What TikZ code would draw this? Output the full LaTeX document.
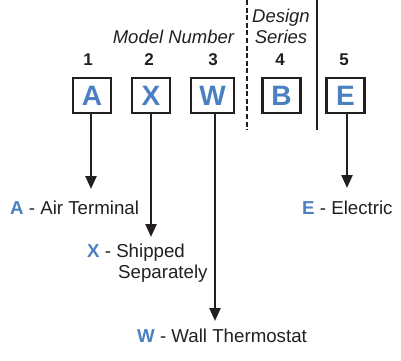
\documentclass[tikz,border=0pt]{standalone}
\usepackage{fontspec}
\setmainfont{Liberation Sans}
\usetikzlibrary{arrows.meta}
\definecolor{codeblue}{RGB}{74,128,193}
\definecolor{ink}{RGB}{35,31,32}
\tikzset{
  codebox/.style={draw=ink, line width=2.6pt, fill=white, minimum width=38pt, minimum height=35pt, inner sep=0pt,
    font=\fontsize{28}{28}\selectfont\bfseries, text=codeblue},
  numlabel/.style={font=\fontsize{17}{17}\selectfont\bfseries, text=ink, anchor=base, inner sep=0pt},
  headlabel/.style={font=\fontsize{18.5}{18.5}\selectfont\itshape, text=ink, anchor=base, inner sep=0pt},
  desc/.style={font=\fontsize{18.7}{18.7}\selectfont, text=ink, anchor=base west, inner sep=0pt},
  arrowline/.style={draw=ink, line width=2.3pt, -{Triangle[width=11pt,length=13pt]}},
}
\newcommand{\keyletter}[1]{\textcolor{codeblue}{\bfseries #1}}
\begin{document}
\begin{tikzpicture}[x=1pt,y=-1pt]
\useasboundingbox (0,0) rectangle (401,360);
% dividers
\draw[ink, line width=2.2pt, dash pattern=on 5pt off 2.6pt] (247,0) -- (247,130);
\draw[ink, line width=2.5pt] (317,0) -- (317,130);
% headings
\node[headlabel] (hmodel) at (173.5,43) {Model Number};
\node[headlabel] (hdesign) at (281,22) {Design};
\node[headlabel] (hseries) at (281,43) {Series};
% numbers
\node[numlabel] (n1) at (88,65) {1};
\node[numlabel] (n2) at (149,65) {2};
\node[numlabel] (n3) at (213,65) {3};
\node[numlabel] (n4) at (280,65) {4};
\node[numlabel] (n5) at (344,65) {5};
% boxes
\node[codebox] (bA) at (92,95.5) {A};
\node[codebox] (bX) at (151,95.5) {X};
\node[codebox, minimum width=43pt] (bW) at (212.5,95.5) {W};
\node[codebox] (bB) at (281.5,95.5) {B};
\node[codebox] (bE) at (345.5,95.5) {E};
% descriptions
\node[desc] (lA) at (10,214) {\keyletter{A} - Air Terminal};
\node[desc] (lX) at (87,257) {\keyletter{X} - Shipped};
\node[desc] (lX2) at (118,278) {Separately};
\node[desc] (lW) at (137,342) {\keyletter{W} - Wall Thermostat};
\node[desc] (lE) at (302,214) {\keyletter{E} - Electric};
% arrow ends
\coordinate (eA) at (91,189);
\coordinate (eX) at (151,237);
\coordinate (eW) at (215,321);
\coordinate (eE) at (347,188);
\draw[arrowline] (bA.south -| eA) -- (eA);
\draw[arrowline] (bX.south -| eX) -- (eX);
\draw[arrowline] (bW.south -| eW) -- (eW);
\draw[arrowline] (bE.south -| eE) -- (eE);
\end{tikzpicture}
\end{document}
